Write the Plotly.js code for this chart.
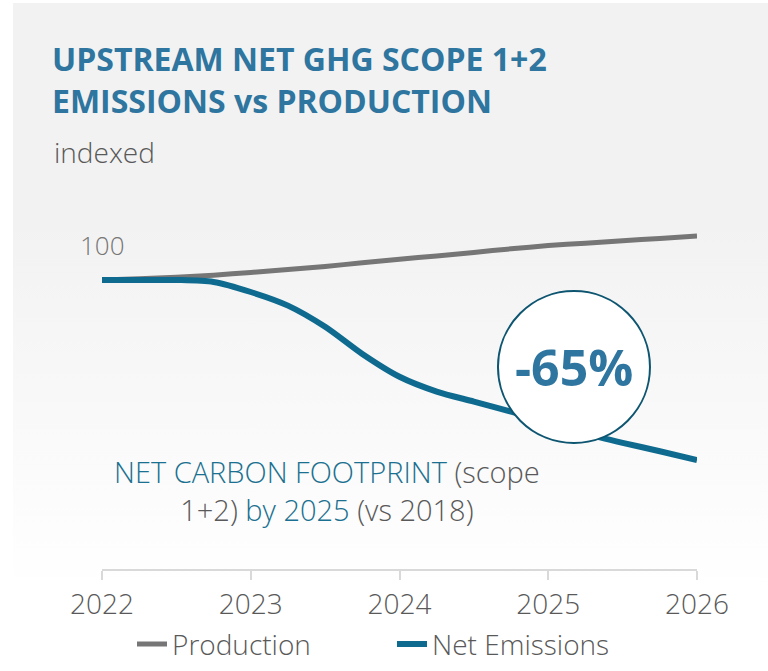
<!DOCTYPE html>
<html>
<head>
<meta charset="utf-8">
<script src="https://cdn.plot.ly/plotly-3.0.1.min.js"></script>
<style>
  html, body { margin:0; padding:0; background:#ffffff; }
  #wrap { position:relative; width:768px; height:671px; overflow:hidden; }
  #bg { position:absolute; left:13px; top:3px; right:0; bottom:0;
        background: linear-gradient(to bottom, #f2f2f2 0%, #f2f2f2 33%, #fbfbfb 70%, #ffffff 88%); }
  #chart { position:absolute; left:0; top:0; width:768px; height:671px; }
</style>
</head>
<body>
<div id="wrap"><div id="bg"></div><div id="chart"></div></div>
<script>
// Data (indexed values)
const years = [2022, 2022.25, 2022.5, 2022.75, 2023, 2023.25, 2023.5, 2023.75, 2024, 2024.25, 2024.5, 2024.75, 2025, 2025.25, 2025.5, 2025.75, 2026];
const production = [100, 100.3, 100.7, 101.2, 101.9, 102.6, 103.4, 104.3, 105.2, 106.0, 106.9, 107.8, 108.6, 109.2, 109.8, 110.4, 111];
const netEmissions = [100, 100, 100, 99.5, 97, 93.6, 88.3, 81.5, 75.8, 72.1, 69.6, 67.1, 64.4, 61.6, 59.3, 57.2, 55];
const tickYears = [2022, 2023, 2024, 2025, 2026];
const tickLabels = ['2022', '2023', '2024', '2025', '2026'];
const seriesNames = ['Production', 'Net Emissions'];
const startLabel = '100';
const badgeText = '-65%';

const FONT = 'Open Sans, Lato, sans-serif';
const GRAY_TXT = '#595959';
const TEAL = '#0e6a8e';
const TITLE_BLUE = '#2e75a0';

const traces = [
  { x: years, y: production, name: seriesNames[0], type: 'scatter', mode: 'lines',
    line: { color: '#767676', width: 5, shape: 'spline', smoothing: 0.8 }, hoverinfo: 'skip' },
  { x: years, y: netEmissions, name: seriesNames[1], type: 'scatter', mode: 'lines',
    line: { color: TEAL, width: 6, shape: 'spline', smoothing: 0.8 }, hoverinfo: 'skip' }
];

const layout = {
  width: 768, height: 671,
  paper_bgcolor: 'rgba(0,0,0,0)', plot_bgcolor: 'rgba(0,0,0,0)',
  margin: { l: 102, r: 71, t: 200, b: 102, autoexpand: false },
  font: { family: FONT, color: GRAY_TXT },
  title: {
    text: 'UPSTREAM NET GHG SCOPE 1+2<br>EMISSIONS vs PRODUCTION',
    font: { family: FONT, size: 32, color: TITLE_BLUE, weight: 700 },
    xref: 'container', yref: 'container', x: 52/768, xanchor: 'left',
    y: 1 - 71/671, yanchor: 'top'
  },
  xaxis: {
    range: [2022, 2026], showgrid: false, zeroline: false,
    showline: true, linecolor: '#d9d9d9', linewidth: 2,
    ticks: 'outside', ticklen: 9, tickwidth: 2, tickcolor: '#d9d9d9',
    tickvals: tickYears, ticktext: tickLabels,
    tickfont: { family: FONT, size: 28, color: GRAY_TXT, weight: 300 },
    fixedrange: true
  },
  yaxis: {
    range: [27.75, 120], visible: false, showgrid: false, zeroline: false, fixedrange: true
  },
  showlegend: true,
  legend: {
    orientation: 'h', x: 30/595, xanchor: 'left', y: -0.136, yanchor: 'top',
    font: { family: FONT, size: 28, color: GRAY_TXT, weight: 300 },
    bgcolor: 'rgba(0,0,0,0)', entrywidth: 215, entrywidthmode: 'pixels',
    itemwidth: 30
  },
  shapes: [
    { type: 'circle', xref: 'x', yref: 'y', xsizemode: 'pixel', ysizemode: 'pixel',
      xanchor: 2025.173, yanchor: 78.25, x0: -76, x1: 76, y0: -76, y1: 76,
      fillcolor: '#ffffff', line: { color: '#0d5570', width: 2 }, layer: 'above' }
  ],
  annotations: [
    { xref: 'paper', yref: 'paper', x: -50/595, y: (569-152)/369, xanchor: 'left', yanchor: 'middle',
      text: 'indexed', showarrow: false,
      font: { family: FONT, size: 28, color: GRAY_TXT, weight: 300 } },
    { xref: 'x', yref: 'y', x: 2022, y: 100, xanchor: 'center', yanchor: 'middle', yshift: 35,
      text: startLabel, showarrow: false,
      font: { family: FONT, size: 26, color: '#777777', weight: 300 } },
    { xref: 'x', yref: 'y', x: 2025.173, y: 78.25, xanchor: 'center', yanchor: 'middle',
      text: badgeText, showarrow: false,
      font: { family: FONT, size: 50, color: TITLE_BLUE, weight: 700 } },
    { xref: 'x', yref: 'y', x: 2023.513, y: 47.5, xanchor: 'center', yanchor: 'middle', align: 'center',
      text: '<span style="color:#1a7090">NET CARBON FOOTPRINT</span> (scope<br>1+2) <span style="color:#1a7090">by 2025</span> (vs 2018)',
      showarrow: false,
      font: { family: FONT, size: 29, color: GRAY_TXT, weight: 300 } }
  ]
};

Plotly.newPlot('chart', traces, layout, { displayModeBar: false, staticPlot: true });
</script>
</body>
</html>
